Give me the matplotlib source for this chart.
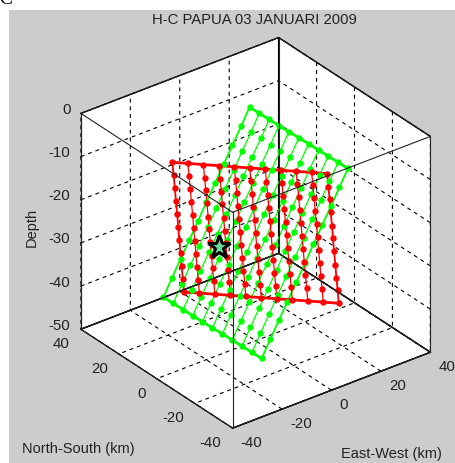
import matplotlib
matplotlib.use('Agg')
import matplotlib.pyplot as plt
from matplotlib.patches import Rectangle
from matplotlib.transforms import offset_copy

plt.rcParams['font.family'] = ['Liberation Sans', 'DejaVu Sans']

x_ticks = [-40, -20, 0, 20, 40]
y_ticks = [-40, -20, 0, 20, 40]
z_ticks = [-50, -40, -30, -20, -10, 0]

# fault planes, rows go down dip, columns along strike
red_x = [
    [-26.7, -23.2, -19.7, -16.2, -12.7, -9.2, -5.7, -2.2, 1.3, 4.8, 8.3],
    [-24.9, -21.4, -17.9, -14.4, -10.9, -7.4, -3.9, -0.4, 3.1, 6.6, 10.1],
    [-23.0, -19.5, -16.0, -12.5, -9.0, -5.5, -2.0, 1.5, 5.0, 8.5, 12.0],
    [-21.2, -17.7, -14.2, -10.7, -7.2, -3.7, -0.2, 3.3, 6.8, 10.3, 13.8],
    [-19.3, -15.8, -12.3, -8.8, -5.3, -1.8, 1.7, 5.2, 8.7, 12.2, 15.7],
    [-17.5, -14.0, -10.5, -7.0, -3.5, 0.0, 3.5, 7.0, 10.5, 14.0, 17.5],
    [-15.7, -12.2, -8.7, -5.2, -1.7, 1.8, 5.3, 8.8, 12.3, 15.8, 19.3],
    [-13.8, -10.3, -6.8, -3.3, 0.2, 3.7, 7.2, 10.7, 14.2, 17.7, 21.2],
    [-12.0, -8.5, -5.0, -1.5, 2.0, 5.5, 9.0, 12.5, 16.0, 19.5, 23.0],
    [-10.1, -6.6, -3.1, 0.4, 3.9, 7.4, 10.9, 14.4, 17.9, 21.4, 24.9],
    [-8.3, -4.8, -1.3, 2.2, 5.7, 9.2, 12.7, 16.2, 19.7, 23.2, 26.7],
]
red_y = [
    [9.1, 5.5, 1.9, -1.7, -5.3, -8.9, -12.5, -16.1, -19.7, -23.3, -26.9],
    [10.8, 7.2, 3.6, 0.0, -3.6, -7.2, -10.8, -14.4, -18.0, -21.6, -25.2],
    [12.6, 9.0, 5.4, 1.8, -1.8, -5.4, -9.0, -12.6, -16.2, -19.8, -23.4],
    [14.4, 10.8, 7.2, 3.6, 0.0, -3.6, -7.2, -10.8, -14.4, -18.0, -21.6],
    [16.2, 12.6, 9.0, 5.4, 1.8, -1.8, -5.4, -9.0, -12.6, -16.2, -19.8],
    [18.0, 14.4, 10.8, 7.2, 3.6, 0.0, -3.6, -7.2, -10.8, -14.4, -18.0],
    [19.8, 16.2, 12.6, 9.0, 5.4, 1.8, -1.8, -5.4, -9.0, -12.6, -16.2],
    [21.6, 18.0, 14.4, 10.8, 7.2, 3.6, 0.0, -3.6, -7.2, -10.8, -14.4],
    [23.4, 19.8, 16.2, 12.6, 9.0, 5.4, 1.8, -1.8, -5.4, -9.0, -12.6],
    [25.2, 21.6, 18.0, 14.4, 10.8, 7.2, 3.6, 0.0, -3.6, -7.2, -10.8],
    [27.0, 23.4, 19.8, 16.2, 12.6, 9.0, 5.4, 1.8, -1.8, -5.4, -9.0],
]
red_z = [-5.4, -9.3, -13.2, -17.1, -21.1, -25.0, -28.9, -32.9, -36.8, -40.7, -44.6]

green_x = [
    [17.2, 17.3, 17.4, 17.5, 17.6, 17.8, 17.9, 18.0, 18.1, 18.2, 18.3],
    [13.7, 13.8, 13.9, 14.0, 14.1, 14.2, 14.3, 14.4, 14.5, 14.6, 14.8],
    [10.1, 10.2, 10.3, 10.4, 10.5, 10.7, 10.8, 10.9, 11.0, 11.1, 11.2],
    [6.6, 6.7, 6.8, 6.9, 7.0, 7.1, 7.2, 7.3, 7.4, 7.5, 7.7],
    [3.0, 3.1, 3.2, 3.3, 3.4, 3.6, 3.7, 3.8, 3.9, 4.0, 4.1],
    [-0.6, -0.4, -0.3, -0.2, -0.1, 0.0, 0.1, 0.2, 0.3, 0.4, 0.6],
    [-4.1, -4.0, -3.9, -3.8, -3.7, -3.6, -3.4, -3.3, -3.2, -3.1, -3.0],
    [-7.7, -7.5, -7.4, -7.3, -7.2, -7.1, -7.0, -6.9, -6.8, -6.7, -6.6],
    [-11.2, -11.1, -11.0, -10.9, -10.8, -10.7, -10.5, -10.4, -10.3, -10.2, -10.1],
    [-14.8, -14.6, -14.5, -14.4, -14.3, -14.2, -14.1, -14.0, -13.9, -13.8, -13.7],
    [-18.3, -18.2, -18.1, -18.0, -17.9, -17.8, -17.6, -17.5, -17.4, -17.3, -17.2],
]
green_y = [
    [25.6, 20.6, 15.5, 10.5, 5.4, 0.4, -4.6, -9.7, -14.7, -19.8, -24.8],
    [25.5, 20.5, 15.4, 10.4, 5.3, 0.3, -4.7, -9.8, -14.8, -19.9, -24.9],
    [25.4, 20.4, 15.4, 10.3, 5.3, 0.2, -4.8, -9.8, -14.9, -19.9, -25.0],
    [25.4, 20.3, 15.3, 10.2, 5.2, 0.2, -4.9, -9.9, -15.0, -20.0, -25.0],
    [25.3, 20.3, 15.2, 10.2, 5.1, 0.1, -4.9, -10.0, -15.0, -20.1, -25.1],
    [25.2, 20.2, 15.1, 10.1, 5.0, 0.0, -5.0, -10.1, -15.1, -20.2, -25.2],
    [25.1, 20.1, 15.0, 10.0, 5.0, -0.1, -5.1, -10.2, -15.2, -20.2, -25.3],
    [25.0, 20.0, 15.0, 9.9, 4.9, -0.2, -5.2, -10.2, -15.3, -20.3, -25.4],
    [25.0, 20.0, 14.9, 9.9, 4.8, -0.2, -5.3, -10.3, -15.3, -20.4, -25.4],
    [24.9, 19.9, 14.8, 9.8, 4.8, -0.3, -5.3, -10.4, -15.4, -20.5, -25.5],
    [24.8, 19.8, 14.7, 9.7, 4.7, -0.4, -5.4, -10.5, -15.5, -20.6, -25.6],
]
green_z = [-7.0, -10.6, -14.2, -17.8, -21.4, -25.0, -28.6, -32.2, -35.8, -39.4, -43.0]

star_xyz = [-15.0, 0.0, -25.0]

W, H = 455, 464
fig = plt.figure(figsize=(W / 100, H / 100), dpi=100, facecolor='white')
fig.add_artist(Rectangle((9 / W, 0), (W - 9) / W, (H - 11) / H, transform=fig.transFigure,
                         facecolor='#cccccc', edgecolor='none', zorder=-5))

ax = fig.add_axes([0.0483, -0.0172, 1.0, 1.0], projection='3d', proj_type='ortho', facecolor='none')
ax.view_init(elev=30, azim=-127.5)
ax.set_box_aspect((1, 1, 1), zoom=0.921)
ax.set_xlim(-40, 40, view_margin=0)
ax.set_ylim(-40, 40, view_margin=0)
ax.set_zlim(-50, 0, view_margin=0)
ax.set_xticks(x_ticks)
ax.set_yticks(y_ticks)
ax.set_zticks(z_ticks)
ax.set_xticklabels([])
ax.set_yticklabels([])
ax.set_zticklabels([])

for axis in (ax.xaxis, ax.yaxis, ax.zaxis):
    axis.set_pane_color((1, 1, 1, 1))
    axis.pane.set_edgecolor('black')
    axis.line.set_color('black')
    axis.line.set_linewidth(0.8)
    axis._axinfo['grid'].update(color='black', linewidth=0.8, linestyle=(0, (3.5, 3.5)))
    axis._axinfo['tick'].update(inward_factor=0.02, outward_factor=0.0)
ax.grid(True)

ax.computed_zorder = False

# all twelve edges of the box, they run over the plane lines in the original
for x in (-40, 40):
    for y in (-40, 40):
        ax.plot([x, x], [y, y], [-50, 0], color='#222222', lw=0.8, zorder=7)
for z in (-50, 0):
    for y in (-40, 40):
        ax.plot([-40, 40], [y, y], [z, z], color='#222222', lw=0.8, zorder=7)
    for x in (-40, 40):
        ax.plot([x, x], [-40, 40], [z, z], color='#222222', lw=0.8, zorder=7)


def draw_plane(xs, ys, zs, colour, line_order, dot_order):
    # thin lines down dip, thick along the top and bottom rows
    for j in range(11):
        col_x = [row[j] for row in xs]
        col_y = [row[j] for row in ys]
        lw = 1.3 if j in (0, 10) else 0.9
        ax.plot(col_x, col_y, zs, color=colour, lw=lw, zorder=line_order)
    for i in (0, 10):
        ax.plot(xs[i], ys[i], [zs[i]] * 11, color=colour, lw=2.0, zorder=line_order)
    for i in range(11):
        ax.plot(xs[i], ys[i], [zs[i]] * 11, ls='none', marker='o', ms=4.6, mec='none',
                color=colour, zorder=dot_order)


draw_plane(green_x, green_y, green_z, '#00ff00', 3, 5)
draw_plane(red_x, red_y, red_z, '#ff0000', 4, 6)
ax.plot([star_xyz[0]], [star_xyz[1]], [star_xyz[2]], ls='none', marker='*', ms=17,
        mfc='#66dd99', mec='black', mew=2.2, zorder=8)


# tick labels sit at a fixed pixel offset from the box edges
def tick_text(x, y, z, label, dx, dy, ha):
    tr = offset_copy(ax.transData, fig=fig, x=dx, y=dy, units='dots')
    ax.text(x, y, z, label, transform=tr, ha=ha, va='center', fontsize=10.8, color='#222222')


for v in x_ticks:
    tick_text(v, -40, -50, str(v), 8, -14, 'left')
for v in y_ticks:
    tick_text(-40, v, -50, str(v), -11, -14, 'right')
for v in z_ticks:
    tick_text(-40, 40, v, str(v), -10.5, 4.5, 'right')

fig.text(-1 / W, 1 - 4 / H, 'C', ha='left', va='baseline', fontsize=14, family='Liberation Serif', color='black')
fig.text(254 / W, 1 - 20 / H, 'H-C PAPUA 03 JANUARI 2009', ha='center', va='center', fontsize=10.7, color='#222222')
fig.text(78 / W, 1 - 449 / H, 'North-South (km)', ha='center', va='center', fontsize=10.5, color='#222222')
fig.text(391 / W, 1 - 454 / H, 'East-West (km)', ha='center', va='center', fontsize=10.5, color='#222222')
fig.text(32 / W, 1 - 227 / H, 'Depth', ha='center', va='center', rotation=90, fontsize=10.5, color='#222222')

fig.savefig('out.png', dpi=100)
